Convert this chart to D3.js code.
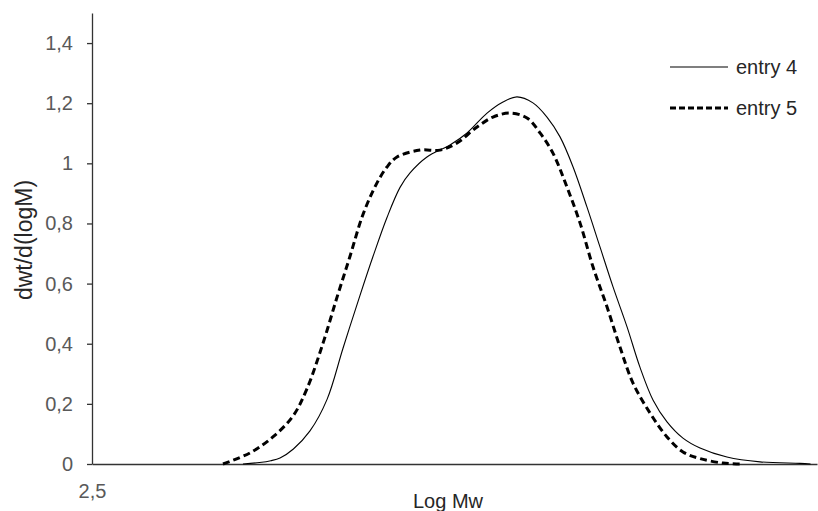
<!DOCTYPE html>
<html>
<head>
<meta charset="utf-8">
<script src="https://cdn.jsdelivr.net/npm/d3@7"></script>
<style>
  body { margin: 0; background: #fff; }
  svg { display: block; font-family: "Liberation Sans", Arial, sans-serif; }
</style>
</head>
<body>
<div id="chart"></div>
<script>
// Log Mw values (x) and dwt/d(logM) values (y)
const entry4X = [3.437, 3.540, 3.610, 3.667, 3.750, 3.853, 3.959, 4.058, 4.163, 4.244, 4.331, 4.412, 4.474, 4.579, 4.722, 4.828, 4.952, 5.051, 5.138, 5.237, 5.324, 5.405, 5.486, 5.572, 5.653, 5.734, 5.821, 5.901, 5.982, 6.069, 6.168, 6.274, 6.441, 6.646, 6.894, 6.96];
const entry4Y = [0, 0.005, 0.011, 0.020, 0.050, 0.110, 0.215, 0.385, 0.560, 0.690, 0.820, 0.920, 0.968, 1.021, 1.061, 1.101, 1.167, 1.204, 1.221, 1.201, 1.154, 1.088, 0.988, 0.855, 0.722, 0.589, 0.456, 0.322, 0.213, 0.140, 0.086, 0.053, 0.023, 0.007, 0.002, 0];

const entry5X = [3.313, 3.481, 3.623, 3.748, 3.834, 3.934, 4.021, 4.101, 4.182, 4.269, 4.331, 4.393, 4.536, 4.660, 4.766, 4.890, 4.989, 5.094, 5.200, 5.281, 5.361, 5.448, 5.529, 5.610, 5.697, 5.777, 5.858, 5.963, 6.069, 6.168, 6.274, 6.417, 6.52];
const entry5Y = [0, 0.037, 0.090, 0.160, 0.250, 0.402, 0.555, 0.690, 0.830, 0.935, 0.988, 1.021, 1.044, 1.044, 1.068, 1.121, 1.154, 1.167, 1.151, 1.101, 1.034, 0.921, 0.802, 0.655, 0.522, 0.389, 0.269, 0.170, 0.090, 0.040, 0.018, 0.003, 0];

const yTicks = [0, 0.2, 0.4, 0.6, 0.8, 1, 1.2, 1.4];
const xTicks = [2.5];
const seriesNames = ["entry 4", "entry 5"];

const width = 818, height = 511;
const margin = { top: 13, right: 1, bottom: 47, left: 92 };

const svg = d3.select("#chart")
    .append("svg")
    .attr("width", width)
    .attr("height", height);

const xScale = d3.scaleLinear()
    .domain([2.5, 7])
    .range([margin.left, width - margin.right]);

const yScale = d3.scaleLinear()
    .domain([0, 1.5])
    .range([height - margin.bottom, margin.top]);

// 逗號小數
const fmt = d => String(d).replace(".", ",");

// Y 軸
const yAxis = svg.append("g")
    .attr("transform", `translate(${margin.left},0)`)
    .call(d3.axisLeft(yScale).tickValues(yTicks).tickSize(5).tickSizeOuter(0).tickPadding(14).tickFormat(fmt));
yAxis.select(".domain").attr("stroke", "#333").attr("stroke-width", 1.3);
yAxis.selectAll(".tick line").attr("stroke", "#333").attr("stroke-width", 1.3);
yAxis.selectAll("text").attr("fill", "#595959").style("font-size", "20px");

// X 軸 (只有 2,5)
const xAxis = svg.append("g")
    .attr("transform", `translate(0,${yScale(0)})`)
    .call(d3.axisBottom(xScale).tickValues(xTicks).tickSize(0).tickSizeOuter(0).tickPadding(20).tickFormat(fmt));
xAxis.select(".domain").attr("stroke", "#333").attr("stroke-width", 1.3);
xAxis.selectAll("text").attr("fill", "#595959").style("font-size", "20px");

// 軸標題
svg.append("text")
    .attr("x", 448)
    .attr("y", 508)
    .attr("text-anchor", "middle")
    .attr("fill", "#262626")
    .style("font-size", "20px")
    .text("Log Mw");

svg.append("text")
    .attr("transform", "translate(32,240) rotate(-90)")
    .attr("text-anchor", "middle")
    .attr("fill", "#262626")
    .style("font-size", "23px")
    .text("dwt/d(logM)");

// 曲線
const line = d3.line()
    .x(d => xScale(d[0]))
    .y(d => yScale(d[1]))
    .curve(d3.curveCatmullRom.alpha(0.5));

const series = [
    { name: seriesNames[0], pts: d3.zip(entry4X, entry4Y), width: 1.1, dash: null },
    { name: seriesNames[1], pts: d3.zip(entry5X, entry5Y), width: 3, dash: "7 4" }
];

series.forEach(s => {
    svg.append("path")
        .datum(s.pts)
        .attr("fill", "none")
        .attr("stroke", "#000")
        .attr("stroke-width", s.width)
        .attr("stroke-dasharray", s.dash)
        .attr("d", line);
});

// 圖例
const legend = svg.append("g").attr("transform", "translate(670,67)");
series.forEach((s, i) => {
    const g = legend.append("g").attr("transform", `translate(0,${i * 41})`);
    g.append("line")
        .attr("x1", 0).attr("x2", 58)
        .attr("stroke", "#000")
        .attr("stroke-width", s.width)
        .attr("stroke-dasharray", s.dash ? "6 3" : null);
    g.append("text")
        .attr("x", 66)
        .attr("dy", "0.35em")
        .attr("fill", "#262626")
        .style("font-size", "20px")
        .text(s.name);
});
</script>
</body>
</html>
